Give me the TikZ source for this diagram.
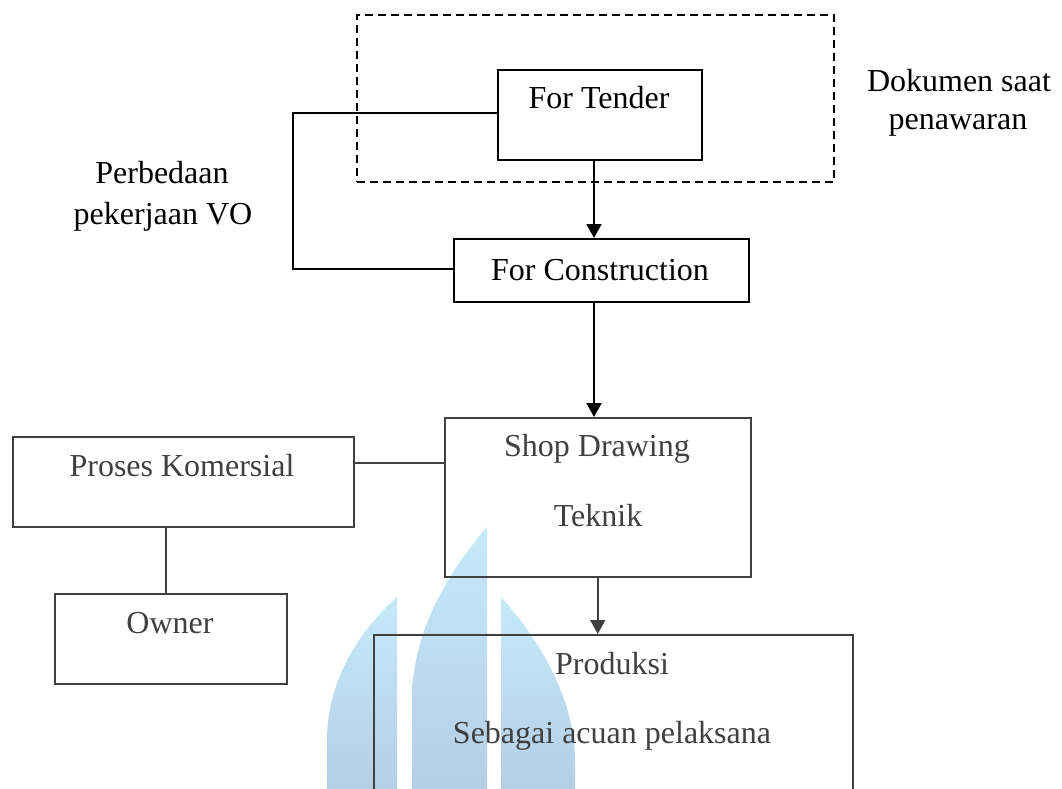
\documentclass[tikz,border=0pt]{standalone}
\usepackage{fontspec}
\setmainfont{Liberation Serif}
\usetikzlibrary{arrows.meta}
\definecolor{boxgray}{HTML}{404040}
\definecolor{wmtop}{HTML}{C6EAF9}
\definecolor{wmbot}{HTML}{B4CEE6}
\tikzset{
  topbox/.style={draw=black, line width=2pt, inner sep=0pt, anchor=north west},
  lowbox/.style={draw=boxgray, line width=1.5pt, inner sep=0pt, anchor=north west},
  dashbox/.style={draw=black, line width=2pt, dash pattern=on 8pt off 5pt, inner sep=0pt, anchor=north west},
  toptxt/.style={text=black, anchor=base, inner sep=0pt, font=\fontsize{32}{38}\selectfont},
  lowtxt/.style={text=boxgray, anchor=base, inner sep=0pt, font=\fontsize{32}{38}\selectfont},
  topline/.style={draw=black, line width=2pt},
  lowline/.style={draw=boxgray, line width=1.5pt},
  toparr/.style={topline, -{Triangle[width=15pt,length=14pt]}},
  lowarr/.style={lowline, -{Triangle[width=15pt,length=14pt]}},
  wm/.style={top color=wmtop, bottom color=wmbot, draw=none}
}
\begin{document}
\begin{tikzpicture}[x=1pt,y=-1pt]
\useasboundingbox[fill=white] (0,0) rectangle (1062,789);
% watermark
\path[wm] (327,789) -- (327,740) .. controls (327,680) and (360,630) .. (397,597) -- (397,789) -- cycle;
\path[wm] (412,789) -- (412,700) .. controls (412,630) and (450,570) .. (487,527) -- (487,789) -- cycle;
\path[wm] (501,789) -- (501,597) .. controls (540,640) and (575,700) .. (575,760) -- (575,789) -- cycle;

% boxes
\node[dashbox, minimum width=477pt, minimum height=167pt] (grp) at (356,14) {};
\node[topbox, minimum width=204pt, minimum height=90pt] (ft) at (497,69) {};
\node[topbox, minimum width=295pt, minimum height=63pt] (fc) at (453,238) {};
\node[lowbox, minimum width=306pt, minimum height=159pt] (sd) at (444,417) {};
\node[lowbox, minimum width=341pt, minimum height=90pt] (pk) at (12,436) {};
\node[lowbox, minimum width=232pt, minimum height=90pt] (ow) at (54,593) {};
\begin{scope}
\clip (0,0) rectangle (1062,789);
\node[lowbox, minimum width=479pt, minimum height=220pt] (pr) at (373,634) {};
\end{scope}

% texts
\node[toptxt] (ftt) at (599,109) {For Tender};
\node[toptxt] (fct) at (600,280) {For Construction};
\node[toptxt] (dk1) at (959,92) {Dokumen saat};
\node[toptxt] (dk2) at (958,130) {penawaran};
\node[toptxt] (vo1) at (162,183) {Perbedaan};
\node[toptxt] (vo2) at (163,224) {pekerjaan VO};
\node[lowtxt] (pkt) at (182,476) {Proses Komersial};
\node[lowtxt] (owt) at (170,633) {Owner};
\node[lowtxt] (sd1) at (597,456) {Shop Drawing};
\node[lowtxt] (sd2) at (598,526) {Teknik};
\node[lowtxt] (pr1) at (612,674) {Produksi};
\node[lowtxt] (pr2) at (612,743) {Sebagai acuan pelaksana};

% connectors
\coordinate (vo) at (293,190);
\draw[topline] ([yshift=2pt]ft.west) -| (vo) |- ([yshift=2pt]fc.west);
\draw[toparr] ([xshift=-6pt]ft.south) -- ([xshift=-6pt]ft.south |- fc.north);
\draw[toparr] ([xshift=-7.5pt]fc.south) -- ([xshift=-7.5pt]fc.south |- sd.north);
\draw[lowline] ([yshift=19pt]pk.east) -- ([yshift=19pt]pk.east -| sd.west);
\draw[lowline] ([xshift=-17.5pt]pk.south) -- ([xshift=-17.5pt]pk.south |- ow.north);
\draw[lowarr] (sd.south) -- (sd.south |- pr.north);
\end{tikzpicture}
\end{document}
